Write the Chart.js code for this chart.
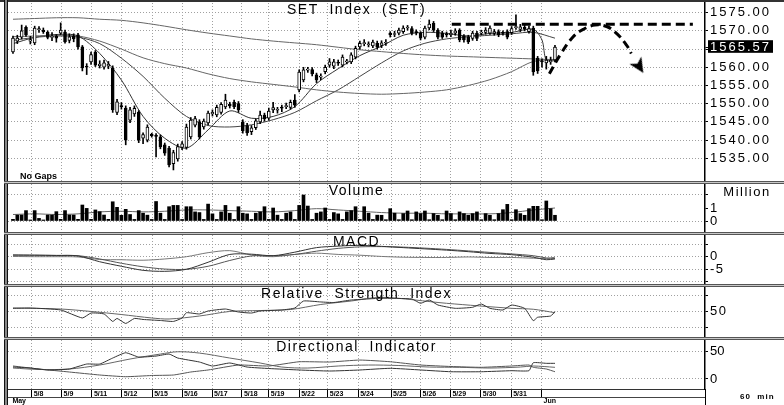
<!DOCTYPE html>
<html lang="en">
<head>
<meta charset="UTF-8">
<title>SET Index (SET) 60 min</title>
<script src="https://cdn.jsdelivr.net/npm/chart.js"></script>
<style>
  body { margin: 0; background: #fff; }
  #wrap { position: relative; width: 784px; height: 405px; overflow: hidden; background: #fff; }
  #wrap canvas { position: absolute; left: 0; }
  .rule { position: absolute; box-sizing: border-box; }
  .sep { position: absolute; left: 4px; width: 780px; height: 3px; border-top: 1px solid #555; border-bottom: 1px solid #555; background: #c8c8c8; box-sizing: border-box; }
</style>
</head>
<body>
<div id="wrap">
  <canvas id="cPrice" width="784" height="181" style="top:0px"></canvas>
  <canvas id="cVol" width="784" height="48" style="top:184px"></canvas>
  <canvas id="cMacd" width="784" height="49" style="top:235px"></canvas>
  <canvas id="cRsi" width="784" height="50" style="top:287px"></canvas>
  <canvas id="cDi" width="784" height="65" style="top:340px"></canvas>

  <div class="rule" style="left:0;top:0;width:784px;height:2px;background:#333"></div>
  <div class="rule" style="left:4px;top:0;width:4px;height:405px;border-left:1px solid #111;border-right:1px solid #111;background:#888"></div>
  <div class="sep" style="top:181px"></div>
  <div class="sep" style="top:232px"></div>
  <div class="sep" style="top:284px"></div>
  <div class="sep" style="top:337px"></div>
  <div class="rule" style="left:705px;top:389px;width:1px;height:16px;background:#000"></div>
  <div class="rule" style="left:8px;top:397px;width:697px;height:1px;background:#444"></div>
</div>
<script>
// bar index of each hourly candle is its position in these arrays
const cOpen = [1564.2,1567.2,1568.3,1571.0,1567.2,1566.7,1570.3,1570.2,1569.6,1568.2,
  1568.6,1569.4,1569.7,1567.4,1568.6,1568.9,1565.6,1560.1,1561.5,1564.2,
  1560.4,1560.0,1560.3,1559.8,1547.6,1549.5,1548.8,1545.5,1547.2,1547.7,
  1540.5,1540.0,1541.6,1541.2,1540.9,1538.7,1537.8,1533.5,1534.8,1538.0,
  1538.0,1540.9,1544.1,1545.0,1543.6,1544.7,1547.2,1546.9,1547.6,1549.1,
  1549.8,1550.4,1550.0,1545.0,1544.0,1542.3,1543.4,1545.0,1546.9,1546.0,
  1548.3,1548.2,1549.0,1549.2,1549.0,1551.0,1553.8,1556.5,1559.2,1559.4,
  1557.9,1557.3,1558.8,1560.6,1560.3,1561.2,1560.6,1561.5,1561.5,1562.8,
  1565.6,1566.5,1566.2,1565.9,1566.6,1566.0,1566.6,1569.4,1569.0,1569.4,
  1569.8,1570.8,1570.6,1569.6,1569.4,1568.3,1570.8,1572.1,1570.2,1569.4,
  1569.0,1568.9,1569.4,1570.2,1568.5,1568.3,1567.9,1569.4,1569.4,1569.6,
  1569.4,1569.3,1569.8,1569.4,1569.8,1569.5,1570.9,1570.4,1571.0,1569.8,
  1570.8,1562.5,1561.6,1561.2,1561.5,1562.0];
const cHigh = [1568.6,1568.8,1571.6,1571.4,1568.5,1571.3,1571.2,1570.8,1570.0,1569.5,
  1569.0,1572.2,1570.2,1569.2,1569.2,1569.3,1566.0,1561.0,1564.2,1564.6,
  1561.8,1562.0,1561.6,1560.4,1551.2,1550.3,1549.4,1549.0,1549.4,1548.1,
  1542.0,1544.2,1541.9,1541.8,1541.4,1539.2,1538.3,1537.2,1538.9,1539.6,
  1544.4,1546.2,1546.5,1545.6,1545.8,1548.0,1548.3,1549.6,1550.3,1552.6,
  1550.4,1551.0,1550.6,1545.6,1544.6,1544.0,1545.8,1548.0,1547.4,1548.8,
  1550.4,1549.0,1549.6,1550.2,1551.0,1552.5,1559.3,1560.0,1560.0,1559.9,
  1558.4,1558.2,1560.6,1562.4,1562.2,1562.0,1563.4,1562.2,1564.0,1565.8,
  1567.2,1567.6,1567.0,1567.5,1567.2,1567.3,1567.6,1569.8,1569.9,1570.8,
  1571.4,1571.5,1571.2,1570.3,1569.8,1571.3,1573.0,1572.6,1570.6,1569.9,
  1569.7,1570.2,1570.6,1570.6,1569.0,1568.8,1569.9,1569.9,1570.2,1570.9,
  1571.4,1570.4,1570.3,1570.0,1570.3,1571.2,1574.4,1571.8,1571.6,1571.3,
  1571.3,1563.0,1562.3,1563.0,1562.8,1566.0];
const cLow = [1563.8,1566.5,1567.8,1568.5,1566.4,1566.2,1569.6,1569.3,1567.8,1567.3,
  1566.9,1569.0,1566.6,1566.7,1567.0,1565.0,1559.0,1558.0,1560.8,1560.2,
  1559.8,1559.5,1559.6,1547.6,1547.0,1548.5,1538.7,1544.8,1546.5,1539.3,
  1539.0,1539.5,1540.8,1535.4,1537.6,1535.8,1532.6,1531.8,1534.2,1537.4,
  1537.5,1540.3,1543.6,1540.3,1543.0,1544.2,1546.6,1546.4,1547.1,1548.6,
  1548.8,1548.6,1547.6,1541.9,1541.3,1541.5,1542.9,1544.5,1545.2,1545.5,
  1547.5,1547.4,1547.8,1548.6,1548.5,1549.0,1553.2,1556.0,1558.6,1557.6,
  1555.8,1556.6,1558.2,1560.0,1559.6,1560.5,1560.1,1560.9,1561.0,1562.3,
  1565.0,1565.9,1565.6,1565.4,1565.0,1565.4,1566.0,1568.3,1568.4,1568.9,
  1569.3,1570.2,1568.9,1568.9,1567.5,1567.8,1570.3,1569.8,1567.8,1567.9,
  1568.3,1568.4,1568.8,1567.0,1566.9,1566.5,1567.4,1567.3,1568.9,1569.1,
  1569.0,1568.8,1568.4,1568.8,1567.8,1569.0,1570.4,1569.8,1570.0,1569.4,
  1557.8,1558.3,1560.0,1559.5,1560.8,1561.5];
const cClose = [1568.0,1568.0,1570.0,1568.9,1567.6,1570.8,1570.6,1569.8,1568.2,1568.5,
  1568.0,1570.2,1567.0,1568.4,1567.8,1565.6,1559.8,1560.0,1563.5,1560.6,
  1560.9,1561.2,1560.9,1548.3,1550.5,1549.2,1540.0,1548.3,1548.7,1540.0,
  1541.5,1543.6,1541.2,1541.0,1538.1,1536.4,1533.2,1536.6,1538.2,1539.0,
  1543.6,1545.5,1545.9,1540.9,1545.2,1547.4,1547.6,1549.0,1549.8,1551.0,
  1549.4,1549.2,1548.3,1542.5,1542.0,1543.4,1545.3,1546.9,1545.8,1548.0,
  1548.9,1548.3,1548.8,1549.5,1550.4,1549.6,1558.7,1559.3,1559.3,1558.2,
  1556.5,1557.5,1560.0,1561.5,1561.5,1561.1,1562.8,1561.6,1563.4,1565.2,
  1566.6,1566.6,1566.3,1566.9,1565.5,1566.7,1566.8,1568.9,1569.1,1570.2,
  1570.8,1570.9,1569.4,1569.5,1568.0,1570.8,1571.9,1570.2,1568.3,1568.3,
  1568.9,1569.4,1570.0,1567.5,1567.5,1567.0,1569.4,1567.9,1569.5,1570.2,
  1570.8,1569.8,1568.9,1569.3,1568.3,1570.6,1571.0,1571.1,1570.5,1570.6,
  1558.7,1559.0,1561.5,1562.0,1561.9,1565.57];

// volume, million shares
const volume = [0.13,0.46,0.46,0.8,0.08, 0.8,0.2,0.08,0.46,0.46, 0.72,0.13,0.8,0.46,0.46,
  0.13,1.23,0.97,0.13,0.85, 0.72,0.46,0.13,1.48,1.05, 0.44,0.9,0.5,0.12,0.8,
  0.6,0.45,0.12,1.5,0.6, 0.12,1.1,1.2,1.2,0.12, 1.1,1.1,0.7,0.65,0.12,
  1.3,0.55,0.12,0.7,1.2, 0.6,0.12,1.1,0.6,0.55, 0.12,0.6,0.7,1.1,0.12,
  1.0,0.45,0.12,0.6,0.7, 0.12,1.2,2.0,1.15,0.12, 0.6,0.7,1.0,0.12,0.65,
  0.55,0.12,0.7,0.8,1.1, 0.12,1.1,0.6,0.12,0.45, 0.44,0.1,0.95,0.6,0.1,
  0.57,0.77,0.1,0.7,0.57, 0.77,0.1,0.57,0.44,0.1, 0.77,0.57,0.1,0.7,0.57,
  0.44,0.57,0.7,0.1,0.57, 0.44,0.1,0.57,0.87,1.28, 0.1,0.87,0.57,0.44,0.95,
  1.13,1.13,0.1,1.54,0.95, 0.44];

// moving averages read at every 5th bar
const maAt = [0,5,10,15,20,25,30,35,40,45,50,55,60,65,70,75,80,85,90,95,100,105,110,115,120,125];
const maLong = [1573.2,1573.4,1573.6,1573.6,1573.2,1572.9,1572.2,1571.3,1570.3,1569.4,1568.6,1567.8,1567.2,
  1566.7,1566.2,1565.5,1564.8,1564.3,1563.8,1563.4,1563.1,1562.9,1562.7,1562.5,1562.3,1562.1];
const maMid = [1568.4,1568.6,1568.8,1568.6,1567.2,1565.0,1562.6,1561.0,1559.8,1558.2,1556.9,1556.0,1555.3,
  1554.6,1553.8,1553.2,1552.8,1552.6,1552.8,1553.2,1553.8,1555.0,1556.6,1558.8,1561.6,1562.2];
const maSlow = [1567.4,1568.2,1568.6,1568.3,1566.5,1562.5,1557.5,1551.5,1546.5,1544.0,1543.6,1544.2,1545.6,
  1547.6,1550.8,1553.8,1557.5,1561.2,1564.5,1566.6,1567.8,1568.4,1568.8,1569.2,1569.6,1568.0];
const fastAt = [0,5,10,15,20,25,30,35,40,45,50,55,60,65,70,75,80,85,90,95,100,105,110,115,120,122,123,125];
const maFast = [1566.5,1568.2,1569.0,1568.6,1563.8,1556.5,1546.5,1540.5,1537.8,1542.8,1548.0,1546.0,1546.5,
  1549.2,1555.5,1559.6,1563.2,1565.8,1568.8,1569.6,1569.3,1568.6,1569.3,1569.6,1570.4,1567.5,1562.0,1561.8];
const volMa = [0.5,0.55,0.5,0.55,0.7,0.75,0.7,0.75,0.85,0.85,0.8,0.75,0.7,0.8,0.95,0.85,0.75,0.65,0.6,0.6,
  0.55,0.55,0.55,0.65,0.85,1.0];

// MACD
const macdAt = [0,5,10,15,20,25,30,35,40,45,50,55,60,65,70,75,80,85,90,95,100,105,110,115,120,123,125];
const macdLine = [0.7,0.6,0.5,0.3,-2.0,-3.8,-5.4,-5.8,-5.0,-2.2,0.9,1.0,0.4,1.8,3.6,4.2,4.5,4.1,3.6,3.1,2.6,2.0,1.3,0.8,-0.2,-1.2,-0.9];
const macdSignal = [0.6,0.6,0.5,0.4,-0.9,-2.6,-4.0,-4.9,-5.0,-3.8,-1.5,0.3,0.4,0.9,2.2,3.3,3.9,4.0,3.8,3.4,2.9,2.3,1.7,1.1,0.4,-0.5,-0.7];
const macdDiff = [0.1,0,0,-0.1,-1.1,-1.2,-1.4,-0.9,0,1.6,2.4,0.7,0,0.9,1.4,0.9,0.6,0.1,-0.2,-0.3,-0.3,-0.1,-0.3,-0.3,-0.6,-0.7,-0.2];

// RSI
const rsiAt = [0,4,11,16,18,21,23,24,26,28,30,34,37,39,40,43,45,49,52,55,57,62,65,67,71,74,78,85,92,94,96,98,102,106,108,110,113,115,118,120,121,124,125];
const rsi = [54.3,54.7,52.2,42,48.3,47.1,37.6,41.4,35,41.4,40.1,38.8,37.6,42,48.7,47.1,50.9,53.4,49.6,48.3,
  50.9,52.2,54.7,63.6,62.4,61.7,64.9,67.1,66.2,60.7,64.9,58.5,54.3,55.6,59.8,54.3,52.2,58.5,54.3,38.5,42.9,44.5,50];
const rsiMaAt = [0,11,18,25,32,36,43,50,57,64,71,78,85,100,115,120,125];
const rsiMa = [54.7,53.4,50.3,46.4,42,40.7,44.5,50.3,51.5,52.8,59.2,63.6,68.3,60.7,54.3,53.1,48.7];

// Directional indicator
const diMinusAt = [0,4,8,13,17,20,23,26,29,33,36,38,43,46,50,54,59,66,73,80,87,94,101,108,115,119,120,123,125];
const diMinus = [21.9,20.1,16.5,18.3,27.4,27.4,38.4,48.1,40.2,42,45.7,38.4,31.1,23.8,29.3,21.9,19.2,16.5,14.6,16.5,
  19.6,16.5,13.3,13.3,15.2,15.2,29.8,28.7,28.7];
const diPlusAt = [0,6,13,20,26,32,37,41,45,52,59,66,73,80,87,94,101,108,115,119,120,123,125];
const diPlus = [23.8,18.3,12.8,7.3,4.2,6.4,7.3,12.8,16.5,25.6,23.8,31.6,31.1,34.7,31.6,25.6,22.9,21.4,23.8,25.6,21.4,18.3,13.3];
const adxAt = [0,6,13,20,27,34,38,43,50,57,62,68,75,82,89,96,103,110,117,120,125];
const adx = [20.1,17.4,18.3,25.6,36.6,45.7,49.9,47.5,38.4,29.3,21.9,20.1,23.8,25.6,24.7,21.9,21.4,20.1,21.9,23.8,21.4];

// drawn forecast: resistance line and arching arrow
const resistX = [101.2, 156.8], resistY = [1571.8, 1571.8];
const arcX = [123.7,126.2,129.2,131.5,134.2,136.9,139.2,141.5,142.6];
const arcY = [1558.2,1563.4,1568.4,1570.4,1571.6,1571.2,1569.3,1566.1,1563.8];
const arrowHead = { x: 144.4, y: 1560.3 };

// day boundaries (bar index) and their labels
const dayAt = [4.3,11.2,18.2,25.1,32.1,39.0,45.9,52.8,59.0,66.0,72.6,79.6,87.2,94.0,100.9,107.9,114.9,121.9];
const dayLabels = ['5/8','5/9','5/11','5/12','5/15','5/16','5/17','5/18','5/19','5/22','5/23','5/24','5/25','5/26','5/29','5/30','5/31',['','Jun']];
const MAY_AT = -0.6;

const priceTicks = [1535,1540,1545,1550,1555,1560,1565,1570,1575];
const lastClose = cClose[cClose.length - 1];

const X_MIN = -1.15, X_MAX = 159.6;
const GRID = '#a0a0a0', NONE = 'rgba(0,0,0,0)';
const FONT = 'Liberation Sans';

const paneText = {
  id: 'paneText',
  beforeLayout(chart, args, opts) { chart.ctx.letterSpacing = opts.spacing || '0px'; },
  beforeDraw(chart, args, opts) { chart.ctx.letterSpacing = opts.spacing || '0px'; },
  afterDraw(chart, args, opts) {
    const ctx = chart.ctx, a = chart.chartArea;
    ctx.save();
    ctx.fillStyle = '#000';
    ctx.textBaseline = 'middle';
    if (opts.title) {
      ctx.letterSpacing = '1.5px';
      ctx.font = '14px "' + FONT + '"';
      ctx.textAlign = 'center';
      ctx.fillText(opts.title, (a.left + a.right) / 2, a.top + 7.5);
    }
    (opts.notes || []).forEach(n => {
      ctx.letterSpacing = n.spacing || '0px';
      ctx.font = n.font;
      ctx.textAlign = n.align || 'left';
      ctx.fillText(n.text, n.x, n.y);
    });
    ctx.restore();
  }
};

// notched arrowhead used as the point style of the forecast arrow
function arrowGlyph() {
  const c = document.createElement('canvas');
  c.width = 14; c.height = 16;
  const g = c.getContext('2d');
  g.fillStyle = '#000';
  g.beginPath();
  g.moveTo(7, 16); g.lineTo(0, 1); g.lineTo(7, 5); g.lineTo(14, 1);
  g.closePath();
  g.fill();
  return c;
}

function timeAxis(bottom) {
  const at = bottom ? [MAY_AT].concat(dayAt) : dayAt;
  const names = [['', 'May']].concat(dayLabels);
  return {
    type: 'linear', min: X_MIN, max: X_MAX, offset: false,
    afterBuildTicks: s => { s.ticks = at.map(v => ({ value: v })); },
    afterFit: s => { s.height = bottom ? 16 : 0; s.paddingLeft = 0; s.paddingRight = 0; },
    grid: {
      offset: false,
      color: c => (c.tick && c.tick.value === MAY_AT) ? NONE : GRID,
      tickColor: c => (c.tick && c.tick.value === MAY_AT) ? NONE : '#000',
      drawTicks: bottom, tickLength: 8, tickBorderDash: [20, 0]
    },
    border: { display: bottom, color: '#333', width: 1, dash: [1, 2] },
    ticks: {
      display: bottom, autoSkip: false, maxRotation: 0, align: 'start',
      padding: -7, labelOffset: 2, color: '#000',
      font: { family: FONT, size: 7, weight: 'bold', lineHeight: 1.1 },
      callback: (v, i) => names[i]
    }
  };
}

function valueAxis(min, max, at, label, gridOn, extraTicks) {
  return {
    position: 'right', min, max,
    afterBuildTicks: s => { s.ticks = at.map(v => ({ value: v })); },
    afterFit: s => { s.width = 79; s.paddingTop = 0; s.paddingBottom = 0; },
    grid: {
      color: c => (c.tick && gridOn(c.tick.value)) ? GRID : NONE,
      tickColor: '#000', tickLength: 3, tickBorderDash: [20, 0]
    },
    border: { color: '#000', width: 1.5, dash: [1, 2] },
    ticks: Object.assign({
      autoSkip: false, padding: 2, color: '#000',
      font: { family: FONT, size: 13 },
      callback: v => label(v)
    }, extraTicks || {})
  };
}

function line(xs, ys, color, width, extra) {
  return Object.assign({
    type: 'line', data: xs.map((x, k) => ({ x, y: ys[k] })),
    borderColor: color, borderWidth: width || 1, pointRadius: 0,
    tension: 0.3, fill: false, order: 3
  }, extra || {});
}

function pane(id, datasets, yAxis, pad, text, bottom) {
  return new Chart(document.getElementById(id), {
    type: 'bar',
    data: { datasets },
    options: {
      responsive: false, animation: false, devicePixelRatio: 1,
      layout: { autoPadding: false, padding: { left: 8, right: 0, top: pad[0], bottom: pad[1] } },
      scales: { x: timeAxis(bottom), y: yAxis },
      plugins: { legend: { display: false }, tooltip: { enabled: false }, paneText: text }
    },
    plugins: [paneText]
  });
}

const idx = cOpen.map((_, i) => i);

// price pane
pane('cPrice', [
  line(resistX, resistY, '#000', 3, { borderDash: [9, 5], tension: 0, order: 0 }),
  line(arcX, arcY, '#000', 3, { borderDash: [8, 5], tension: 0.4, order: 0 }),
  { type: 'line', data: [arrowHead], showLine: false, pointStyle: arrowGlyph(), pointRadius: 7,
    pointRotation: -32, order: 0 },
  { data: idx.map(i => ({ x: i, y: [cOpen[i], cClose[i]] })),
    backgroundColor: idx.map(i => cClose[i] >= cOpen[i] ? '#fff' : '#000'),
    borderColor: '#000', borderWidth: 1, borderSkipped: false, barThickness: 3,
    minBarLength: 1, grouped: false, order: 1 },
  { data: idx.map(i => ({ x: i, y: [cLow[i], cHigh[i]] })),
    backgroundColor: '#000', barThickness: 1, grouped: false, order: 2 },
  line(maAt, maLong, '#666'),
  line(maAt, maMid, '#666'),
  line(maAt, maSlow, '#444'),
  line(fastAt, maFast, '#333')
], valueAxis(1528.76, 1577.66,
  priceTicks.slice(0, 7).concat([lastClose], priceTicks.slice(7)),
  v => v === 1565 ? '' : v.toFixed(2),
  v => v !== lastClose,
  {
    color: c => c.tick && c.tick.value === lastClose ? '#fff' : '#000',
    showLabelBackdrop: true,
    backdropColor: c => c.tick && c.tick.value === lastClose ? '#000' : NONE,
    backdropPadding: { top: -1, bottom: -2, left: 2, right: 2 }
  }),
  [3, 0],
  { title: 'SET  Index  (SET)', spacing: '2px',
    notes: [{ text: 'No Gaps', x: 20, y: 177, font: 'bold 9px "' + FONT + '"' }] }, false);

// volume pane
pane('cVol', [
  { data: idx.map(i => ({ x: i, y: volume[i] })), backgroundColor: '#000', barThickness: 3, grouped: false, order: 1 },
  line(maAt, volMa, '#666')
], valueAxis(-0.846, 2.846, [0, 1, 2], v => v === 2 ? '' : String(v), v => v !== 1),
  [0, 0],
  { title: 'Volume', spacing: '1.5px',
    notes: [{ text: 'Million', x: 747, y: 8, align: 'center', spacing: '1.5px', font: '13px "' + FONT + '"' }] }, false);

// MACD pane
pane('cMacd', [
  line(macdAt, macdLine, '#333'),
  line(macdAt, macdSignal, '#555'),
  line(macdAt, macdDiff, '#777')
], valueAxis(-10.83, 8.61, [-10, -5, 0, 5], v => (v === 0 || v === -5) ? String(v) : '', () => true),
  [0, 0], { title: 'MACD', spacing: '1.5px' }, false);

// RSI pane
pane('cRsi', [
  line(rsiAt, rsi, '#333', 1, { tension: 0.15 }),
  line(rsiMaAt, rsiMa, '#666')
], valueAxis(17.77, 81.46, [30, 50, 70], v => v === 50 ? '50' : '', () => true),
  [0, 0], { title: 'Relative  Strength  Index', spacing: '1.5px' }, false);

// Directional indicator pane with the time axis
pane('cDi', [
  line(diMinusAt, diMinus, '#333', 1, { tension: 0.15 }),
  line(diPlusAt, diPlus, '#555', 1, { tension: 0.15 }),
  line(adxAt, adx, '#666')
], valueAxis(-18.32, 71.43, [0, 50], v => String(v), () => true),
  [0, 0],
  { title: 'Directional  Indicator', spacing: '0px',
    notes: [{ text: '60  min', x: 740, y: 57, spacing: '1px', font: 'bold 8px "' + FONT + '"' }] }, true);
</script>
</body>
</html>
